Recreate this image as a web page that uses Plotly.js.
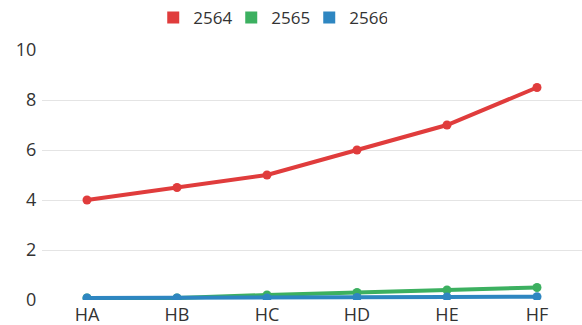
<!DOCTYPE html>
<html><head><meta charset="utf-8">
<script src="https://cdn.plot.ly/plotly-3.0.1.min.js"></script>
<style>html,body{margin:0;padding:0;background:#fff}#c{width:582px;height:325px}</style>
</head><body><div id="c"></div>
<script>
const categories = ["HA","HB","HC","HD","HE","HF"];
const seriesNames = ["2564","2565","2566"];
const s2564 = [4, 4.5, 5, 6, 7, 8.5];
const s2565 = [0.08, 0.08, 0.2, 0.3, 0.4, 0.5];
const s2566 = [0.08, 0.08, 0.08, 0.1, 0.12, 0.13];
const colors = ["#e03c3c", "#3cb060", "#2e86c1"];
const vals = [s2564, s2565, s2566];
const traces = vals.map((v,i)=>({
  x: categories, y: v, name: seriesNames[i], type:'scatter', mode:'lines+markers',
  showlegend:false, legendgroup:seriesNames[i],
  line:{color:colors[i], width:4}, marker:{color:colors[i], size:9, symbol:'circle'}
}));
const legendTraces = seriesNames.map((n,i)=>({
  x:[null], y:[null], name:n, type:'scatter', mode:'markers', legendgroup:n,
  marker:{color:colors[i], size:9, symbol:'square'}, showlegend:true, hoverinfo:'skip'
}));
const layout = {
  width:582, height:325,
  margin:{l:42, r:0, t:50, b:25},
  paper_bgcolor:'#fff', plot_bgcolor:'#fff',
  font:{family:'"Open Sans", "Noto Sans", sans-serif', size:17, color:'#333'},
  showlegend:true,
  legend:{orientation:'h', x:0.206, xanchor:'left', y:1.128, yanchor:'middle', entrywidth:33, entrywidthmode:'pixels', itemsizing:'constant', tracegroupgap:0, font:{size:17, color:'#333'}},
  xaxis:{type:'category', range:[-0.5,5.5], showgrid:false, zeroline:false, showline:false, ticks:'', ticklabelstandoff:2, tickfont:{size:18, color:'#333'}},
  yaxis:{range:[0,10], dtick:2, showgrid:true, gridcolor:'#e4e4e4', gridwidth:1, zeroline:false, showline:false, ticks:'', tickfont:{size:18, color:'#333'}, ticksuffix:' '}
};
Plotly.newPlot('c', traces.concat(legendTraces), layout, {displayModeBar:false, staticPlot:true});
</script></body></html>
